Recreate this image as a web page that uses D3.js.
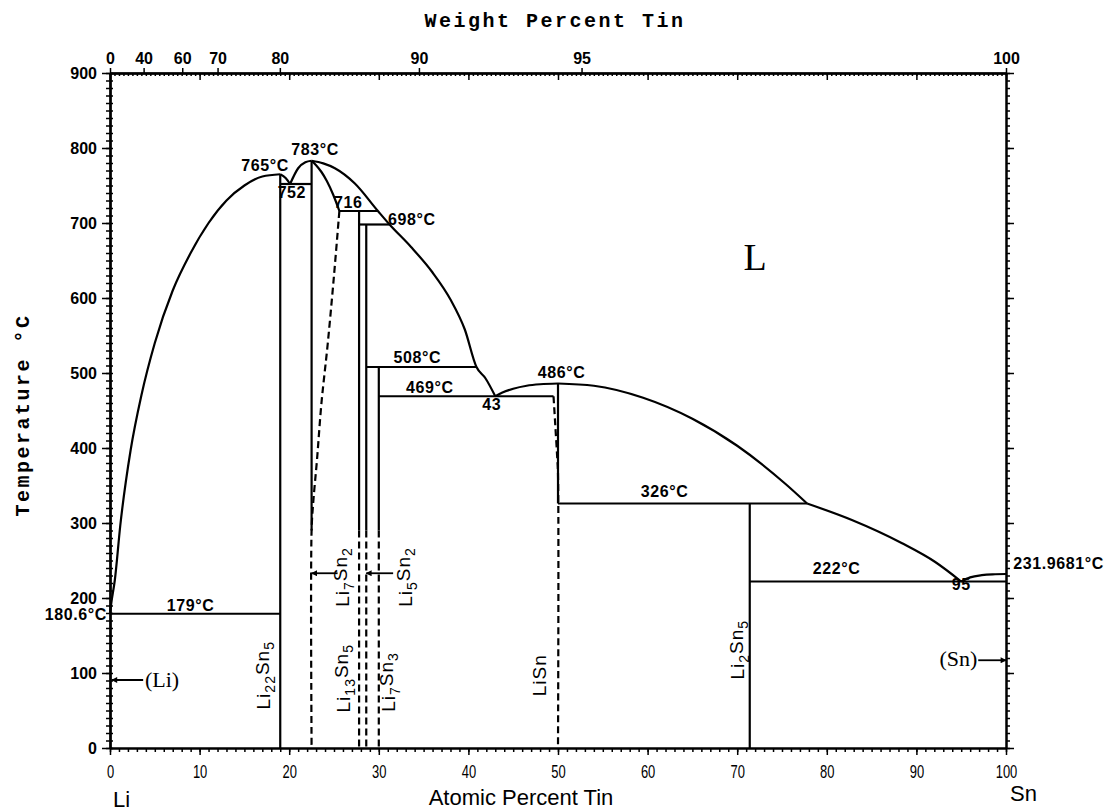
<!DOCTYPE html>
<html><head><meta charset="utf-8">
<script src="https://cdn.jsdelivr.net/npm/d3@7"></script>
<style>body{margin:0;background:#fff}svg{display:block}</style>
</head><body>
<svg id="chart" width="1110" height="812"></svg>
<script>
// ---------- data ----------
const atomicTicks = [0,10,20,30,40,50,60,70,80,90,100];
const tempTicks = [0,100,200,300,400,500,600,700,800,900];
const weightTicks = [0,40,60,70,80,90,95,100];
const massLi = 6.941, massSn = 118.71;

// liquidus segments [at% Sn, T °C]
const liqLi      = [[0,180.6],[0.14,193],[0.54,224],[1.15,297],[2.3,397],[3.5,470],[5,540],[7,610],[9,660],[11,700],[13,730],[15,750],[17,762],[19,765]];
const liq765_752 = [[19,765],[19.6,760],[20.1,752]];
const liq752_783 = [[20.1,752],[21.0,773],[21.8,781],[22.5,783]];
const liq783_43  = [[22.5,783],[23.8,779.5],[25.1,773],[27.3,753],[29.9,716],[31.2,698],[33.6,668],[36.0,634],[38.0,598],[39.6,558],[40.9,508],[41.9,493],[43,469]];
const liq43_486  = [[43,469],[43.8,474],[45,479],[46.5,483],[48,485],[50,486]];
const liq486_326 = [[50,486],[54,483],[59.5,467],[65,439],[70,403],[75.4,352],[77.8,326]];
const liq326_95  = [[77.8,326],[82.8,304],[88.4,273],[92.1,248],[95,222]];
const liqSn      = [[95,222],[96,227.5],[97.3,230.5],[98.5,231.6],[100,231.9681]];
// Li7Sn2 solidus (solid) and solvus (dashed)
const li7sn2Solidus = [[22.5,783],[23.0,777],[23.6,768],[24.2,756],[24.9,738],[25.6,716]];
const li7sn2Solvus  = [[25.6,716],[25.0,630],[24.3,539],[23.6,460],[23.1,384],[22.7,330],[22.5,291],[22.5,0]];
const liSnSolvus    = [[49.5,469],[49.7,430],[49.9,390],[50,366],[50,0]];
// isotherms: T, from, to (at% Sn)
const isoT    = [179, 752, 716, 698, 508, 469, 326, 222];
const isoFrom = [0,   19,  25.6,27.8,28.6,30,  50,  71.4];
const isoTo   = [19,  22.5,29.9,31.2,40.9,49.5,77.8,100];
// compounds: composition, top T, solid down to T (dashed below)
const cmpX     = [19, 22.5, 27.8, 28.6, 30, 50, 71.4];
const cmpTop   = [765, 783, 716, 698, 508, 486, 326];
const cmpSolid = [0, 290, 290, 290, 290, 326, 0];
const cmpDash  = [false, false, true, true, true, false, false];

// annotations [text, at%, T, anchor]
const notes = [
  ["765°C",17.3,769,"middle"],["783°C",22.9,790.7,"middle"],["752",20.3,733,"middle"],
  ["716",26.6,720,"middle"],["698°C",33.7,697,"middle"],["508°C",34.3,513,"middle"],
  ["469°C",35.7,473,"middle"],["43",42.6,450.7,"middle"],["486°C",50.4,493,"middle"],
  ["326°C",61.9,334.7,"middle"],["222°C",81.1,232,"middle"],["95",95,210.7,"middle"],
  ["231.9681°C",100.8,238.7,"start"],["179°C",9.0,182.7,"middle"],["180.6°C",-0.33,170.7,"end"]
];
const phaseNames = [["Li_{22}Sn_{5}",17.9,97],["Li_{7}Sn_{2}",26.7,228],["Li_{5}Sn_{2}",33.7,228],
  ["Li_{13}Sn_{5}",26.8,93],["Li_{7}Sn_{3}",31.8,88],["LiSn",48.7,97],["Li_{2}Sn_{5}",70.8,131]];
const arrows = [[3.7,90.7,0.2],[96.9,117,100],[25.4,233,22.5],[31.6,233,28.6]];
const arrowLabels = [["(Li)",3.9,81,"start"],["(Sn)",96.8,109,"end"]];

// ---------- drawing ----------
const svg = d3.select("#chart");
const x = d3.scaleLinear().domain([0,100]).range([110,1006]);
const y = d3.scaleLinear().domain([0,900]).range([748,73]);
const wtToAt = w => 100*(w/massSn)/((w/massSn)+((100-w)/massLi));

const defs = svg.append("defs");
defs.append("marker").attr("id","ah").attr("viewBox","0 0 10 10").attr("refX",9).attr("refY",5)
  .attr("markerWidth",9).attr("markerHeight",6).attr("markerUnits","userSpaceOnUse").attr("orient","auto")
  .append("path").attr("d","M0,0L10,5L0,10Z").attr("fill","#000");

function styleAxis(g){ g.select(".domain").attr("stroke","#000").attr("stroke-width",2);
  g.selectAll(".tick line").attr("stroke","#000").attr("stroke-width",1.5); }

const sans = "Liberation Sans, Arial, sans-serif";
// bottom axis
svg.append("g").attr("transform","translate(0,748)")
  .call(d3.axisBottom(x).tickValues(d3.range(0,100.01,1)).tickSize(4).tickSizeOuter(0).tickFormat("")).call(styleAxis);
const gb2 = svg.append("g").attr("transform","translate(0,748)");
gb2.call(d3.axisBottom(x).tickValues(atomicTicks).tickSize(7).tickSizeOuter(0).tickPadding(10)).call(styleAxis);
gb2.selectAll(".tick text").attr("font-family",sans).attr("font-size",18)
  .attr("fill","#000").attr("transform","scale(0.72,1)");
// left axis
svg.append("g").attr("transform","translate(110,0)")
  .call(d3.axisLeft(y).tickValues(d3.range(0,900.1,10)).tickSize(4).tickSizeOuter(0).tickFormat("")).call(styleAxis);
svg.append("g").attr("transform","translate(110,0)")
  .call(d3.axisLeft(y).tickValues(d3.range(0,900.1,10)).tickSize(-3).tickSizeOuter(0).tickFormat("")).call(styleAxis);
const gl2 = svg.append("g").attr("transform","translate(110,0)");
gl2.call(d3.axisLeft(y).tickValues(tempTicks).tickSize(8).tickSizeOuter(0).tickPadding(5)).call(styleAxis);
gl2.selectAll(".tick text").attr("font-family",sans).attr("font-size",16)
  .attr("font-weight","bold").attr("fill","#000");
// right axis
svg.append("g").attr("transform","translate(1006,0)")
  .call(d3.axisRight(y).tickValues(d3.range(0,900.1,10)).tickSize(4).tickSizeOuter(0).tickFormat("")).call(styleAxis);
svg.append("g").attr("transform","translate(1006,0)")
  .call(d3.axisRight(y).tickValues(tempTicks).tickSize(8).tickSizeOuter(0).tickFormat("")).call(styleAxis);
// top axis
svg.append("g").attr("transform","translate(0,73)")
  .call(d3.axisTop(x).tickValues(d3.range(0,100.01,0.5)).tickSize(-3).tickSizeOuter(0).tickFormat("")).call(styleAxis);
svg.append("g").attr("transform","translate(0,73)")
  .call(d3.axisTop(x).tickValues(atomicTicks).tickSize(-7).tickSizeOuter(0).tickFormat("")).call(styleAxis);
const gt = svg.append("g").attr("transform","translate(0,73)");
gt.call(d3.axisTop(x).tickValues(weightTicks.map(wtToAt)).tickSize(5).tickSizeOuter(0).tickPadding(4)
  .tickFormat((d,i)=>weightTicks[i])).call(styleAxis);
gt.selectAll(".tick text").attr("font-family",sans).attr("font-size",16)
  .attr("font-weight","bold").attr("fill","#000");

// axis titles
const mono = "Liberation Mono, Courier New, monospace";
svg.append("text").attr("x",555).attr("y",27).attr("text-anchor","middle").attr("font-family",mono)
  .attr("font-size",20).attr("font-weight","bold").attr("letter-spacing","2.5px").text("Weight Percent Tin");
svg.append("text").attr("transform","translate(29,415) rotate(-90)").attr("text-anchor","middle").attr("font-family",mono)
  .attr("font-size",20).attr("font-weight","bold").attr("letter-spacing","2.5px").text("Temperature °C");
svg.append("text").attr("x",521).attr("y",805).attr("text-anchor","middle").attr("font-family",sans)
  .attr("font-size",22).text("Atomic Percent Tin");
svg.append("text").attr("x",113).attr("y",807).attr("font-family",sans).attr("font-size",22).text("Li");
svg.append("text").attr("x",1010).attr("y",801).attr("font-family",sans).attr("font-size",22).text("Sn");

// phase diagram lines
const liqLine = d3.line().x(d=>x(d[0])).y(d=>y(d[1])).curve(d3.curveMonotoneX);
const crvLine = d3.line().x(d=>x(d[0])).y(d=>y(d[1])).curve(d3.curveCatmullRom.alpha(0.5));
const plot = svg.append("g").attr("fill","none").attr("stroke","#000").attr("stroke-width",2.2);
[liqLi,liq765_752,liq752_783,liq783_43,liq43_486,liq486_326,liq326_95,liqSn].forEach(seg=>{
  plot.append("path").attr("d",liqLine(seg));
});
plot.append("path").attr("d",crvLine(li7sn2Solidus));
[li7sn2Solvus, liSnSolvus].forEach(seg=>{
  plot.append("path").attr("d",crvLine(seg)).attr("stroke-dasharray","7,4");
});
isoT.forEach((t,i)=>{
  plot.append("path").attr("d",d3.line()([[x(isoFrom[i]),y(t)],[x(isoTo[i]),y(t)]]));
});
cmpX.forEach((c,i)=>{
  plot.append("path").attr("d",d3.line()([[x(c),y(cmpTop[i])],[x(c),y(cmpSolid[i])]]));
  if(cmpDash[i]) plot.append("path").attr("d",d3.line()([[x(c),y(cmpSolid[i])],[x(c),y(0)]])).attr("stroke-dasharray","7,4");
});
// arrows
arrows.forEach(a=>{
  svg.append("line").attr("x1",x(a[0])).attr("y1",y(a[1])).attr("x2",x(a[2])).attr("y2",y(a[1]))
    .attr("stroke","#000").attr("stroke-width",1.8).attr("marker-end","url(#ah)");
});

// annotations
notes.forEach(n=>{
  svg.append("text").attr("x",x(n[1])).attr("y",y(n[2])).attr("text-anchor",n[3]).attr("font-family",sans)
    .attr("font-size",16).attr("font-weight","bold").attr("letter-spacing","0.6px").text(n[0]);
});
arrowLabels.forEach(n=>{
  svg.append("text").attr("x",x(n[1])).attr("y",y(n[2])).attr("text-anchor",n[3])
    .attr("font-family","Liberation Serif, Times New Roman, serif").attr("font-size",22).text(n[0]);
});
svg.append("text").attr("x",x(72)).attr("y",y(637)).attr("text-anchor","middle")
  .attr("font-family","Liberation Serif, Times New Roman, serif").attr("font-size",38).text("L");

phaseNames.forEach(p=>{
  const t = svg.append("text").attr("transform",`translate(${x(p[1])},${y(p[2])}) rotate(-90)`)
    .attr("text-anchor","middle").attr("font-family",sans).attr("font-size",19).attr("letter-spacing","1px");
  const parts = p[0].split(/(_\{[^}]*\})/).filter(s=>s.length);
  let sub=false;
  parts.forEach(s=>{
    if(s.startsWith("_{")){
      t.append("tspan").attr("font-size",14).attr("dy","0.35em").text(s.slice(2,-1));
      sub=true;
    } else {
      t.append("tspan").attr("dy",sub?"-0.35em":"0").text(s);
      sub=false;
    }
  });
});
</script>
</body></html>
